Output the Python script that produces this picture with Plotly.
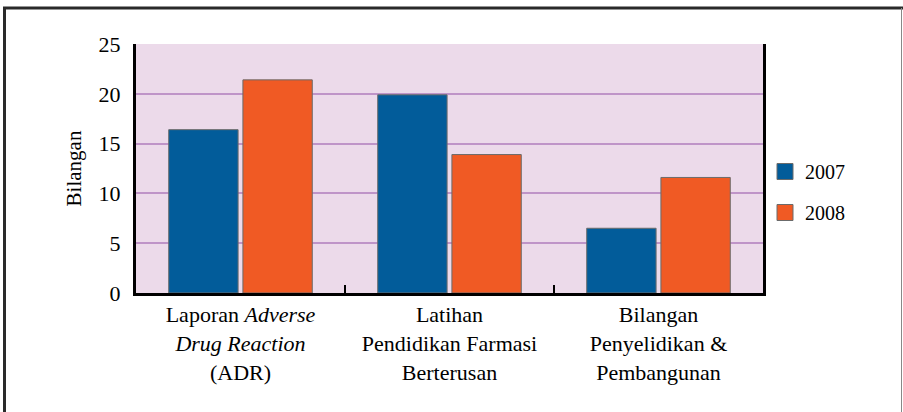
import plotly.graph_objects as go

categories = [
    "Laporan <i>Adverse</i><br><i>Drug Reaction</i><br>(ADR)",
    "Latihan<br>Pendidikan Farmasi<br>Berterusan",
    "Bilangan<br>Penyelidikan &<br>Pembangunan",
]
values_2007 = [16.4, 19.9, 6.5]
values_2008 = [21.4, 13.9, 11.6]
series_names = ["2007", "2008"]
y_ticks = [0, 5, 10, 15, 20, 25]

FONT = "Liberation Serif, Times New Roman, serif"
BLUE = "#025C9A"
ORANGE = "#F05A24"
OUTLINE = "#6B6B6B"

fig = go.Figure()
series = [(series_names[0], values_2007, BLUE), (series_names[1], values_2008, ORANGE)]
for name, vals, col in series:
    fig.add_trace(go.Bar(
        x=categories, y=vals, name=name, legendgroup=name, showlegend=False,
        marker=dict(color=col, line=dict(color=OUTLINE, width=1)),
    ))
# legend entries with larger square swatches
for name, vals, col in series:
    fig.add_trace(go.Scatter(
        x=[None], y=[None], mode="markers", name=name, legendgroup=name,
        marker=dict(symbol="square", size=16, color=col, line=dict(color=OUTLINE, width=1)),
        hoverinfo="skip",
    ))

W, H = 903, 412
L, R, T, B = 136, 763, 44, 293

def px(x):
    return (x - L) / (R - L)

def py(y):
    return (B - y) / (B - T)

fig.update_layout(
    width=W, height=H,
    margin=dict(l=L, r=W - R, t=T, b=H - B, autoexpand=False),
    paper_bgcolor="white",
    plot_bgcolor="#ECDAEA",
    barmode="group",
    bargap=0.29,
    bargroupgap=0.065,
    font=dict(family=FONT, size=20, color="black"),
    legend=dict(
        x=px(765), y=py(192), xanchor="left", yanchor="middle",
        font=dict(family=FONT, size=20, color="black"),
        traceorder="grouped", tracegroupgap=12,
        bgcolor="rgba(0,0,0,0)",
    ),
    xaxis=dict(
        showline=True, linecolor="black", linewidth=3, mirror=False,
        ticks="inside", tickson="boundaries", ticklen=8, tickwidth=2, tickcolor="black",
        showgrid=False, tickfont=dict(family=FONT, size=22, color="black"),
        automargin=False,
    ),
    yaxis=dict(
        range=[0, 25], tickvals=y_ticks,
        showline=True, linecolor="black", linewidth=3, mirror=True,
        ticks="", showgrid=True, gridcolor="#BF94C8", gridwidth=2,
        zeroline=False,
        tickfont=dict(family=FONT, size=22, color="black"),
        ticklabelstandoff=8,
        title=dict(text="Bilangan", font=dict(family=FONT, size=21, color="black"), standoff=12),
        automargin=False,
    ),
    shapes=[
        dict(type="line", xref="paper", yref="paper", x0=px(3), x1=px(903), y0=py(8), y1=py(8),
             line=dict(color="#2A2A2A", width=3)),
        dict(type="line", xref="paper", yref="paper", x0=px(4.5), x1=px(4.5), y0=py(7), y1=py(413),
             line=dict(color="#2A2A2A", width=3)),
        dict(type="line", xref="paper", yref="paper", x0=px(901.5), x1=px(901.5), y0=py(8), y1=py(413),
             line=dict(color="#888888", width=1)),
    ],
)

fig.write_html(
    "out.html",
    config={"displayModeBar": False},
    post_script="document.body.style.margin='0';document.body.style.overflow='hidden';",
)
